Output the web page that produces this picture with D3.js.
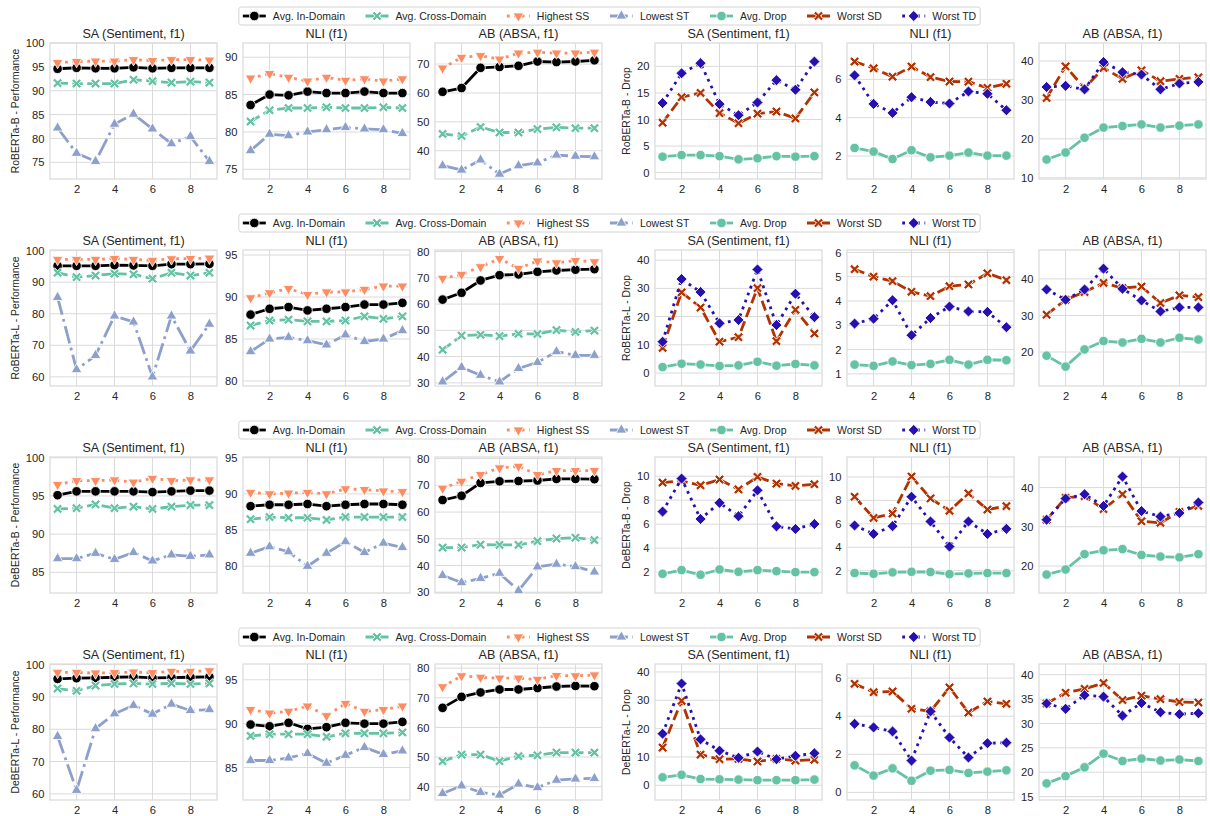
<!DOCTYPE html>
<html>
<head>
<meta charset="utf-8">
<script src="https://cdn.jsdelivr.net/npm/d3@7"></script>
<style>
  body { margin: 0; background: #ffffff; }
  text { font-family: "Liberation Sans", Arial, sans-serif; fill: #262626; }
</style>
</head>
<body>
<svg id="chart" width="1210" height="816"></svg>
<script>
// ---- data -------------------------------------------------------------
const steps = [1, 2, 3, 4, 5, 6, 7, 8, 9];
const xTicks = [2, 4, 6, 8];
const models = ["RoBERTa-B", "RoBERTa-L", "DeBERTa-B", "DeBERTa-L"];
const taskTitles = ["SA (Sentiment, f1)", "NLI (f1)", "AB (ABSA, f1)"];
const perfSeries = ["Avg. In-Domain", "Avg. Cross-Domain", "Highest SS", "Lowest ST"];
const dropSeries = ["Avg. Drop", "Worst SD", "Worst TD"];

// RoBERTa-B  (rows follow perfSeries / dropSeries order)
const rbSA = [
  [94.6, 94.8, 94.7, 94.7, 94.9, 94.7, 94.8, 94.8, 94.8],
  [91.6, 91.5, 91.5, 91.5, 92.3, 92.0, 91.7, 91.9, 91.7],
  [95.9, 96.1, 96.2, 96.2, 96.5, 96.3, 96.5, 96.5, 96.4],
  [82.2, 76.9, 75.2, 83.0, 85.1, 82.0, 78.9, 80.4, 75.2]];
const rbNLI = [
  [83.6, 85.0, 84.9, 85.4, 85.2, 85.2, 85.4, 85.2, 85.2],
  [81.4, 82.9, 83.2, 83.2, 83.3, 83.2, 83.2, 83.3, 83.2],
  [87.2, 87.8, 87.3, 86.8, 87.3, 86.9, 87.1, 86.8, 87.1],
  [77.5, 79.7, 79.5, 80.0, 80.3, 80.6, 80.4, 80.3, 79.8]];
const rbAB = [
  [60.4, 61.7, 68.7, 69.0, 69.4, 70.9, 70.7, 70.9, 71.3],
  [45.8, 45.1, 48.2, 46.3, 46.3, 47.5, 48.1, 47.8, 47.8],
  [68.6, 72.3, 72.9, 71.7, 73.8, 74.1, 73.8, 73.8, 74.1],
  [34.8, 33.3, 36.8, 31.9, 34.8, 35.8, 38.5, 38.1, 37.9]];
const rbSADrop = [
  [3.0, 3.3, 3.3, 3.1, 2.5, 2.7, 3.1, 3.0, 3.1],
  [9.4, 14.2, 15.0, 11.2, 9.3, 11.1, 11.5, 10.2, 15.1],
  [13.1, 18.7, 20.6, 12.9, 10.8, 13.2, 17.4, 15.6, 20.9]];
const rbNLIDrop = [
  [2.42, 2.23, 1.84, 2.30, 1.93, 2.02, 2.18, 2.02, 2.02],
  [6.93, 6.58, 6.14, 6.67, 6.12, 5.89, 5.88, 5.56, 5.77],
  [6.21, 4.72, 4.25, 5.07, 4.82, 4.74, 5.37, 5.25, 4.39]];
const rbABDrop = [
  [14.7, 16.5, 20.3, 22.9, 23.3, 23.7, 22.9, 23.4, 23.7],
  [30.5, 38.6, 33.0, 38.2, 35.4, 37.6, 34.8, 35.4, 35.8],
  [33.3, 33.6, 32.7, 39.7, 37.1, 36.5, 32.7, 34.2, 34.6]];

// RoBERTa-L
const rlSA = [
  [95.2, 95.2, 95.2, 95.4, 95.3, 95.2, 95.7, 95.7, 95.8],
  [93.0, 91.6, 92.1, 92.7, 92.5, 91.1, 93.0, 92.1, 93.0],
  [97.2, 97.2, 97.2, 97.5, 97.2, 96.9, 97.4, 97.5, 97.6],
  [85.2, 62.3, 66.8, 79.3, 77.4, 60.0, 79.3, 68.2, 76.7]];
const rlNLI = [
  [87.9, 88.6, 88.8, 88.4, 88.6, 88.8, 89.1, 89.1, 89.3],
  [86.6, 87.2, 87.3, 87.1, 87.1, 87.2, 87.7, 87.4, 87.7],
  [89.9, 90.5, 91.0, 90.3, 90.6, 90.6, 90.9, 91.3, 91.3],
  [83.5, 85.0, 85.2, 84.8, 84.3, 85.5, 84.7, 85.0, 86.0]];
const rlAB = [
  [61.7, 64.3, 69.0, 71.0, 71.3, 72.3, 72.8, 73.1, 73.3],
  [42.6, 48.0, 48.3, 47.8, 48.7, 48.6, 50.1, 49.4, 49.9],
  [69.8, 71.3, 74.2, 77.3, 73.6, 76.4, 75.7, 76.6, 76.1],
  [30.4, 35.9, 32.9, 30.4, 35.5, 37.8, 41.9, 40.5, 40.5]];
const rlSADrop = [
  [2.1, 3.3, 3.0, 2.5, 2.7, 4.0, 2.6, 3.2, 2.7],
  [8.9, 28.6, 23.2, 11.1, 12.7, 30.1, 11.3, 22.4, 14.0],
  [11.1, 33.3, 28.7, 17.6, 18.8, 36.7, 17.0, 28.1, 19.8]];
const rlNLIDrop = [
  [1.38, 1.33, 1.51, 1.36, 1.41, 1.58, 1.38, 1.58, 1.56],
  [5.31, 5.00, 4.82, 4.38, 4.20, 4.61, 4.68, 5.14, 4.86],
  [3.07, 3.27, 4.03, 2.59, 3.30, 3.77, 3.57, 3.55, 2.92]];
const rlABDrop = [
  [19.0, 16.0, 20.7, 23.0, 22.6, 23.6, 22.6, 23.9, 23.4],
  [30.2, 34.3, 36.4, 38.9, 37.5, 37.9, 33.4, 35.5, 35.0],
  [37.1, 34.3, 37.1, 42.8, 37.3, 34.1, 31.1, 32.2, 32.2]];

// DeBERTa-B
const dbSA = [
  [95.1, 95.6, 95.6, 95.6, 95.6, 95.5, 95.6, 95.7, 95.7],
  [93.3, 93.4, 93.9, 93.4, 93.6, 93.3, 93.6, 93.8, 93.8],
  [96.5, 97.0, 97.0, 97.1, 96.8, 97.3, 97.0, 97.1, 97.1],
  [86.8, 86.8, 87.5, 86.7, 87.6, 86.5, 87.3, 87.1, 87.3]];
const dbNLI = [
  [88.3, 88.5, 88.5, 88.6, 88.3, 88.5, 88.6, 88.6, 88.5],
  [86.5, 86.8, 86.7, 86.7, 86.4, 86.8, 86.8, 86.8, 86.8],
  [90.2, 90.0, 90.1, 90.2, 90.0, 90.7, 90.6, 90.4, 90.3],
  [81.8, 82.7, 82.0, 80.0, 81.8, 83.4, 81.9, 83.2, 82.6]];
const dbAB = [
  [64.5, 66.1, 70.9, 71.5, 71.6, 71.8, 72.4, 72.4, 72.3],
  [46.7, 46.7, 47.8, 47.7, 47.7, 49.1, 50.1, 50.4, 49.5],
  [68.9, 71.5, 74.0, 76.5, 77.1, 74.0, 75.5, 75.5, 75.5],
  [36.3, 33.6, 35.2, 37.1, 30.6, 39.5, 40.5, 39.6, 37.6]];
const dbSADrop = [
  [1.86, 2.17, 1.78, 2.22, 2.03, 2.17, 2.08, 2.00, 2.00],
  [9.47, 9.60, 9.24, 9.72, 8.90, 9.94, 9.38, 9.19, 9.33],
  [7.05, 9.80, 6.43, 7.78, 6.66, 8.82, 5.82, 5.60, 6.01]];
const dbNLIDrop = [
  [1.80, 1.74, 1.86, 1.91, 1.89, 1.71, 1.77, 1.80, 1.80],
  [8.31, 6.50, 6.88, 10.03, 8.17, 7.11, 8.60, 7.22, 7.51],
  [5.86, 5.14, 5.80, 8.31, 6.20, 4.06, 6.20, 5.14, 5.57]];
const dbABDrop = [
  [17.8, 19.1, 23.0, 24.0, 24.3, 22.8, 22.4, 22.2, 23.0],
  [31.8, 37.4, 37.8, 34.5, 38.3, 31.4, 31.0, 33.8, 35.3],
  [31.8, 37.2, 38.3, 35.3, 42.8, 34.0, 32.6, 33.5, 36.2]];

// DeBERTa-L
const dlSA = [
  [95.6, 95.8, 95.9, 96.1, 96.2, 95.9, 96.0, 96.1, 96.2],
  [92.6, 91.9, 93.5, 94.0, 94.2, 94.0, 94.2, 94.0, 94.2],
  [97.6, 97.6, 97.4, 97.5, 97.7, 97.5, 97.9, 97.9, 98.1],
  [77.8, 61.1, 80.2, 84.8, 87.4, 84.7, 87.8, 85.8, 86.1]];
const dlNLI = [
  [89.9, 89.7, 90.1, 89.4, 89.6, 90.1, 90.0, 90.0, 90.2],
  [88.6, 88.8, 88.8, 88.8, 88.5, 88.9, 88.9, 88.9, 89.0],
  [91.6, 91.2, 91.4, 92.0, 90.9, 92.3, 91.4, 91.6, 92.0],
  [85.8, 85.8, 86.1, 86.6, 85.5, 86.4, 87.3, 86.5, 86.9]];
const dlAB = [
  [66.6, 70.3, 71.8, 72.8, 72.8, 73.3, 73.8, 74.0, 73.9],
  [48.6, 50.8, 50.8, 48.6, 50.3, 50.6, 51.5, 51.5, 51.5],
  [73.7, 77.4, 76.9, 76.6, 76.6, 76.2, 77.5, 77.4, 77.7],
  [37.7, 40.3, 38.1, 37.2, 40.9, 39.7, 42.2, 42.6, 42.8]];
const dlSADrop = [
  [2.8, 3.7, 2.2, 2.1, 2.0, 1.8, 1.8, 1.8, 2.0],
  [13.3, 29.8, 10.8, 9.2, 9.3, 8.4, 9.3, 8.7, 9.0],
  [18.2, 35.9, 16.2, 12.2, 9.7, 11.9, 9.2, 10.4, 11.3]];
const dlNLIDrop = [
  [1.42, 0.88, 1.26, 0.61, 1.14, 1.18, 1.02, 1.09, 1.16],
  [5.70, 5.26, 5.30, 4.39, 4.25, 5.51, 4.19, 4.77, 4.65],
  [3.60, 3.41, 3.20, 1.67, 4.25, 2.88, 1.83, 2.58, 2.61]];
const dlABDrop = [
  [17.7, 19.2, 21.0, 23.8, 22.3, 22.8, 22.4, 22.6, 22.3],
  [34.1, 36.3, 37.1, 38.3, 34.8, 35.7, 35.0, 34.4, 34.3],
  [34.1, 33.0, 35.8, 35.5, 31.6, 34.2, 32.3, 31.9, 32.1]];

// per-row panel data: 3 performance panels then 3 drop panels
const panelData = [
  [rbSA, rbNLI, rbAB, rbSADrop, rbNLIDrop, rbABDrop],
  [rlSA, rlNLI, rlAB, rlSADrop, rlNLIDrop, rlABDrop],
  [dbSA, dbNLI, dbAB, dbSADrop, dbNLIDrop, dbABDrop],
  [dlSA, dlNLI, dlAB, dlSADrop, dlNLIDrop, dlABDrop]];

// y tick labels per panel
const yTicks = [
  [[75, 80, 85, 90, 95, 100], [75, 80, 85, 90], [40, 50, 60, 70], [0, 5, 10, 15, 20], [2, 4, 6], [10, 20, 30, 40]],
  [[60, 70, 80, 90, 100], [80, 85, 90, 95], [30, 40, 50, 60, 70, 80], [0, 10, 20, 30, 40], [1, 2, 3, 4, 5, 6], [20, 30, 40]],
  [[85, 90, 95, 100], [80, 85, 90, 95], [30, 40, 50, 60, 70, 80], [2, 4, 6, 8, 10], [2, 4, 6, 8, 10], [20, 30, 40]],
  [[60, 70, 80, 90, 100], [85, 90, 95], [40, 50, 60, 70, 80], [0, 10, 20, 30, 40], [0, 2, 4, 6], [15, 20, 25, 30, 35, 40]]];

// ---- layout & style ----------------------------------------------------
const yDomains = [
  [[71.5, 100], [73.7, 91.9], [30.2, 77.3], [-1.2, 24.4], [0.8, 7.9], [9.7, 44.6]],
  [[57.1, 100.2], [79.4, 95.6], [28.8, 80.6], [-4.6, 43.6], [0.5, 6.1], [10.7, 47.9]],
  [[82.3, 100.1], [76.3, 95.1], [29.7, 80.6], [0.26, 11.6], [0.1, 11.7], [13.1, 47.8]],
  [[58.1, 100.2], [81.3, 96.8], [35.5, 81.4], [-5.2, 42.8], [-0.4, 6.74], [14.3, 42.2]]];

const panelLeft = [50, 243, 435, 655, 847, 1039];
const panelW = 167;
const rowTop = [43, 250, 457, 664];
const panelH = 136;

const LW = 2.8;
const dashes = {
  solid: null,
  dashed: [3.7 * LW, 1.6 * LW].join(","),
  dotted: [1 * LW, 1.65 * LW].join(","),
  dashdot: [6.4 * LW, 1.6 * LW, 1 * LW, 1.6 * LW].join(",")
};

const perfStyle = [
  { color: "#000000", dash: "solid", marker: "circle" },
  { color: "#66c2a5", dash: "dashed", marker: "x" },
  { color: "#fc8d62", dash: "dotted", marker: "tridown" },
  { color: "#8da0cb", dash: "dashdot", marker: "triup" }];
const dropStyle = [
  { color: "#66c2a5", dash: "solid", marker: "circle" },
  { color: "#b23200", dash: "dashed", marker: "x" },
  { color: "#2610b0", dash: "dotted", marker: "diamond" }];

const gridColor = "#dadada";

function markerShape(type) {
  if (type === "circle") return { d: d3.symbol(d3.symbolCircle, 72)(), rot: 0 };
  if (type === "triup") return { d: d3.symbol(d3.symbolTriangle, 50)(), rot: 0 };
  if (type === "tridown") return { d: d3.symbol(d3.symbolTriangle, 50)(), rot: 180 };
  if (type === "diamond") return { d: d3.symbol(d3.symbolSquare, 62)(), rot: 45 };
  // filled X: a plus sign turned by 45 degrees
  const s = 5.4, t = 1.45;
  const pts = [[-t, -s], [t, -s], [t, -t], [s, -t], [s, t], [t, t], [t, s], [-t, s], [-t, t], [-s, t], [-s, -t], [-t, -t]];
  return { d: "M" + pts.map(p => p.join(",")).join("L") + "Z", rot: 45 };
}

const svg = d3.select("#chart");
svg.append("rect").attr("width", 1210).attr("height", 816).attr("fill", "#ffffff");

function drawPanel(g, r, c) {
  const left = panelLeft[c], top = rowTop[r];
  const x = d3.scaleLinear().domain([0.6, 9.4]).range([left, left + panelW]);
  const y = d3.scaleLinear().domain(yDomains[r][c]).range([top + panelH, top]);
  const isDrop = c >= 3;
  const rows = panelData[r][c];
  const styles = isDrop ? dropStyle : perfStyle;

  // frame + grid
  const pg = g.append("g");
  pg.append("g").selectAll("line").data(xTicks).join("line")
    .attr("x1", d => x(d)).attr("x2", d => x(d))
    .attr("y1", top).attr("y2", top + panelH)
    .attr("stroke", gridColor).attr("stroke-width", 1);
  pg.append("g").selectAll("line").data(yTicks[r][c]).join("line")
    .attr("x1", left).attr("x2", left + panelW)
    .attr("y1", d => y(d)).attr("y2", d => y(d))
    .attr("stroke", gridColor).attr("stroke-width", 1);
  pg.append("rect").attr("x", left).attr("y", top).attr("width", panelW).attr("height", panelH)
    .attr("fill", "none").attr("stroke", gridColor).attr("stroke-width", 1.25);

  // axes tick labels via d3 axes
  const xAxis = d3.axisBottom(x).tickValues(xTicks).tickSize(0).tickPadding(6).tickFormat(d3.format("d"));
  const xa = pg.append("g").attr("transform", `translate(0,${top + panelH})`).call(xAxis);
  xa.select(".domain").remove();
  xa.selectAll("text").attr("font-size", 11.2).attr("fill", "#262626")
    .style("font-family", '"Liberation Sans", Arial, sans-serif');

  const yAxis = d3.axisLeft(y).tickValues(yTicks[r][c]).tickSize(0).tickPadding(5.5).tickFormat(d3.format("d"));
  const ya = pg.append("g").attr("transform", `translate(${left},0)`).call(yAxis);
  ya.select(".domain").remove();
  ya.selectAll("text").attr("font-size", 11.2).attr("fill", "#262626")
    .style("font-family", '"Liberation Sans", Arial, sans-serif');

  // title
  pg.append("text").attr("x", left + panelW / 2).attr("y", top - 5.5)
    .attr("text-anchor", "middle").attr("font-size", 12.6)
    .text(taskTitles[c % 3]);

  // y label on first panel of each half
  if (c === 0 || c === 3) {
    const lx = c === 0 ? 15 : 626;
    pg.append("text")
      .attr("transform", `translate(${lx},${top + panelH / 2}) rotate(-90)`)
      .attr("text-anchor", "middle").attr("dominant-baseline", "central")
      .attr("font-size", 10.4)
      .text(models[r] + (isDrop ? " - Drop" : " - Performance"));
  }

  // series
  const line = d3.line().x((d, i) => x(steps[i])).y(d => y(d));
  rows.forEach((vals, si) => {
    const st = styles[si];
    const sg = pg.append("g");
    sg.append("path").attr("d", line(vals)).attr("fill", "none")
      .attr("stroke", st.color).attr("stroke-width", LW)
      .attr("stroke-dasharray", dashes[st.dash])
      .attr("stroke-linejoin", "round");
    const m = markerShape(st.marker);
    sg.selectAll("path.mk").data(vals).join("path").attr("class", "mk")
      .attr("d", m.d)
      .attr("transform", (d, i) => `translate(${x(steps[i])},${y(d)}) rotate(${m.rot})`)
      .attr("fill", st.color).attr("stroke", "#ffffff").attr("stroke-width", 0.85);
  });
}

function drawLegend(g, r) {
  const top = rowTop[r] - 36;
  const lg = g.append("g");
  const box = lg.append("rect").attr("y", top).attr("height", 18)
    .attr("rx", 2.5).attr("fill", "#ffffff").attr("stroke", "#d4d4d4").attr("stroke-width", 1);
  const items = perfSeries.map((n, i) => ({ name: n, st: perfStyle[i] }))
    .concat(dropSeries.map((n, i) => ({ name: n, st: dropStyle[i] })));
  let cx = 0;
  const cy = top + 9;
  const itemsG = lg.append("g");
  items.forEach(it => {
    const ig = itemsG.append("g");
    ig.append("line").attr("x1", cx).attr("x2", cx + 23).attr("y1", cy).attr("y2", cy)
      .attr("stroke", it.st.color).attr("stroke-width", LW)
      .attr("stroke-dasharray", dashes[it.st.dash]);
    const m = markerShape(it.st.marker);
    ig.append("path").attr("d", m.d)
      .attr("transform", `translate(${cx + 11.5},${cy}) rotate(${m.rot})`)
      .attr("fill", it.st.color).attr("stroke", "#ffffff").attr("stroke-width", 0.85);
    const t = ig.append("text").attr("x", cx + 30).attr("y", cy)
      .attr("dominant-baseline", "central").attr("font-size", 10.5).text(it.name);
    cx += 30 + t.node().getComputedTextLength() + 20.5;
  });
  const total = cx - 20.5;
  const startX = 609.5 - total / 2;
  itemsG.attr("transform", `translate(${startX},0)`);
  box.attr("x", startX - 4).attr("width", total + 8);
}

for (let r = 0; r < 4; r++) {
  const rg = svg.append("g");
  for (let c = 0; c < 6; c++) drawPanel(rg, r, c);
  drawLegend(rg, r);
}
</script>
</body>
</html>
